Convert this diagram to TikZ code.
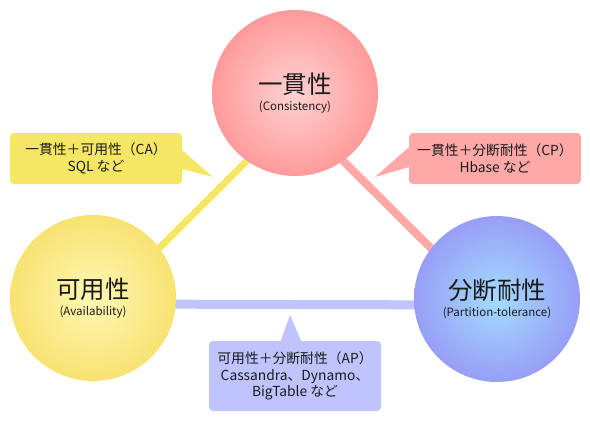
\documentclass[tikz,border=0pt]{standalone}
\usepackage{fontspec}
\setmainfont{Noto Sans CJK JP}
\usetikzlibrary{positioning, calc, backgrounds}

\definecolor{consRed}{HTML}{FF9A9A}
\definecolor{consLight}{HTML}{FFD2D2}
\definecolor{availYellow}{HTML}{F8E272}
\definecolor{availLight}{HTML}{FFF8B4}
\definecolor{partBlue}{HTML}{979EF6}
\definecolor{partLight}{HTML}{A4DCFF}
\definecolor{caYellow}{HTML}{F5E664}
\definecolor{cpPink}{HTML}{FFA8A8}
\definecolor{apBlue}{HTML}{C0C4FE}
\definecolor{inkGray}{HTML}{1A1A1A}

\newcommand{\propname}[2]{{\fontsize{24.5}{28}\selectfont #1}\\{\fontsize{11.5}{13}\selectfont #2}}

\begin{document}
\begin{tikzpicture}[x=1pt, y=-1pt,
    prop/.style={circle, minimum size=166pt, inner sep=0pt, align=center,
        text=inkGray, font=\fontsize{11.5}{17}\selectfont},
    note/.style={rectangle, rounded corners=4pt, minimum width=172pt, inner sep=0pt,
        align=center, text=inkGray, font=\fontsize{13.8}{16.5}\selectfont},
    tie/.style={line width=#1}
]
    \useasboundingbox (0,0) rectangle (590,421);

    % The three properties
    \node[prop, inner color=consLight, outer color=consRed] (cons) at (295,93)
        {\propname{一貫性}{(Consistency)}};
    \node[prop, inner color=availLight, outer color=availYellow] (avail) at (93,298)
        {\propname{可用性}{(Availability)}};
    \node[prop, inner color=partLight, outer color=partBlue] (part) at (497,299)
        {\propname{分断耐性}{(Partition-tolerance)}};

    % Edges of the triangle, behind the circles
    \begin{scope}[on background layer]
        \draw[tie=7pt, caYellow] ([shift={(10,6)}]avail.center) -- ([shift={(0,20)}]cons.center);
        \draw[tie=8pt, cpPink] ([shift={(0,20)}]cons.center) -- ([shift={(-10,5)}]part.center);
        \draw[tie=9pt, apBlue] ([shift={(10,6)}]avail.center) -- ([shift={(-10,6)}]part.center);
    \end{scope}

    % Callouts
    \node[note, fill=caYellow, minimum height=51pt] (ca) at (96,158.5)
        {一貫性＋可用性（CA）\\SQL など};
    \coordinate (caTip) at (213,177);
    \fill[caYellow] ([shift={(-2,-10)}]ca.east) -- (caTip) -- ([shift={(-2,10)}]ca.east) -- cycle;

    \node[note, fill=cpPink, minimum height=51pt] (cp) at (495,158.5)
        {一貫性＋分断耐性（CP）\\Hbase など};
    \coordinate (cpTip) at (375,177);
    \fill[cpPink] ([shift={(2,-13)}]cp.west) -- (cpTip) -- ([shift={(2,8)}]cp.west) -- cycle;

    \node[note, fill=apBlue, minimum height=70pt] (ap) at (295,376)
        {可用性＋分断耐性（AP）\\Cassandra、Dynamo、\\BigTable など};
    \coordinate (apTip) at (290,315);
    \fill[apBlue] ([shift={(-15,2)}]ap.north) -- (apTip) -- ([shift={(7,2)}]ap.north) -- cycle;
\end{tikzpicture}
\end{document}
